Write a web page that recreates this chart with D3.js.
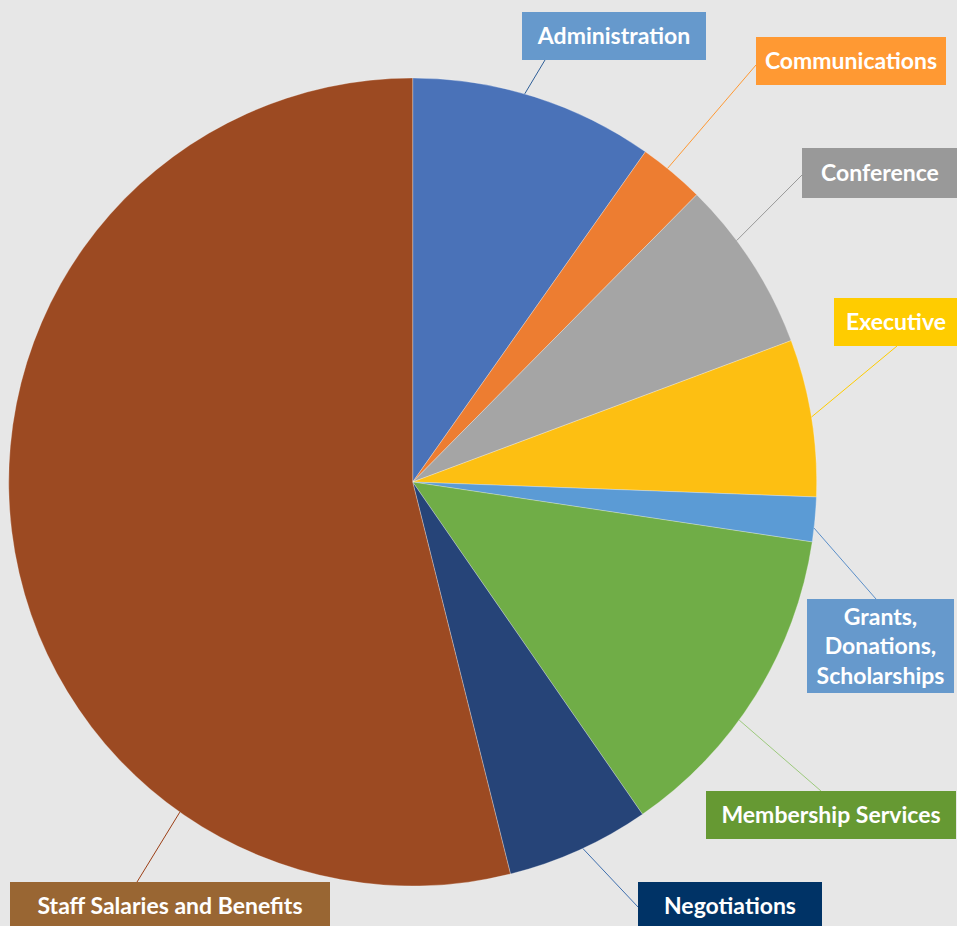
<!DOCTYPE html>
<html>
<head>
<meta charset="utf-8">
<script src="https://cdn.jsdelivr.net/npm/d3@7"></script>
<style>
  html, body { margin: 0; padding: 0; background: #e7e7e7; }
  svg { display: block; }
</style>
</head>
<body>
<svg id="chart" width="957" height="926"></svg>
<script>
// ---- data ----
const categories = [
  "Administration", "Communications", "Conference", "Executive",
  "Grants, Donations, Scholarships", "Membership Services", "Negotiations",
  "Staff Salaries and Benefits"
];
const values = [9.77, 2.64, 6.90, 6.28, 1.78, 13.00, 5.74, 53.89];
const labelLines = [
  ["Administration"], ["Communications"], ["Conference"], ["Executive"],
  ["Grants,", "Donations,", "Scholarships"], ["Membership Services"],
  ["Negotiations"], ["Staff Salaries and Benefits"]
];

// ---- styles ----
const sliceColors = ["#4a72b8", "#ed7d31", "#a5a5a5", "#fdbf12", "#5b9bd5", "#70ad47", "#264478", "#9c4a22"];
const boxColors   = ["#6699cc", "#ff9933", "#999999", "#ffcc00", "#6699cc", "#669933", "#003366", "#996633"];
const lineColors  = ["#2f5f98", "#ff9933", "#999999", "#ffcc00", "#5b8fc9", "#9cc97c", "#3f6fae", "#9c3f16"];

// ---- layout ----
const W = 957, H = 926;
const cx = 412.7, cy = 482, R = 404;
// label boxes [x, y, w, h], leader anchor angle (deg, clockwise from 12 o'clock), leader end point
const boxes = [
  {b: [522, 12, 184, 48],  a: 16.1,  e: [545, 60]},
  {b: [756, 37, 190, 48],  a: 39.1,  e: [756, 65]},
  {b: [802, 148, 156, 50], a: 53.3,  e: [802, 175]},
  {b: [834, 298, 124, 48], a: 80.75, e: [897, 346]},
  {b: [807, 599, 147, 94], a: 96.55, e: [876, 599]},
  {b: [706, 791, 250, 48], a: 126.1, e: [821, 791]},
  {b: [638, 882, 184, 48], a: 155.1, e: [638, 907]},
  {b: [10, 882, 320, 48],  a: 215.2, e: [137, 882]}
];

const svg = d3.select("#chart");
svg.append("rect").attr("width", W).attr("height", H).attr("fill", "#e7e7e7");

const pie = d3.pie().sort(null).value(d => d)(values);
const arc = d3.arc().innerRadius(0).outerRadius(R);

const g = svg.append("g").attr("transform", `translate(${cx},${cy})`);
g.selectAll("path.slice")
  .data(pie)
  .join("path")
  .attr("class", "slice")
  .attr("d", arc)
  .attr("fill", (d, i) => sliceColors[i])
  .attr("stroke", "rgba(255,255,255,0.35)")
  .attr("stroke-width", 0.8);

// leader lines
svg.selectAll("line.leader")
  .data(boxes)
  .join("line")
  .attr("class", "leader")
  .attr("x1", d => cx + R * Math.sin(d.a * Math.PI / 180))
  .attr("y1", d => cy - R * Math.cos(d.a * Math.PI / 180))
  .attr("x2", d => d.e[0])
  .attr("y2", d => d.e[1])
  .attr("stroke", (d, i) => lineColors[i])
  .attr("stroke-width", 1);

// label boxes
const lab = svg.selectAll("g.label")
  .data(boxes)
  .join("g")
  .attr("class", "label");

lab.append("rect")
  .attr("x", d => d.b[0]).attr("y", d => d.b[1])
  .attr("width", d => d.b[2]).attr("height", d => d.b[3])
  .attr("fill", (d, i) => boxColors[i]);

const lineH = 29.3;
lab.each(function(d, i) {
  const lines = labelLines[i];
  const t = d3.select(this).append("text")
    .attr("text-anchor", "middle")
    .attr("font-family", "Lato, 'Open Sans', sans-serif")
    .attr("font-weight", 700)
    .attr("font-size", 23)
    .attr("fill", "#ffffff");
  const midY = d.b[1] + d.b[3] / 2;
  const firstY = midY - (lines.length - 1) * lineH / 2;
  lines.forEach((s, k) => {
    t.append("tspan")
      .attr("x", d.b[0] + d.b[2] / 2)
      .attr("y", firstY + k * lineH)
      .attr("dy", "0.36em")
      .text(s);
  });
});
</script>
</body>
</html>
